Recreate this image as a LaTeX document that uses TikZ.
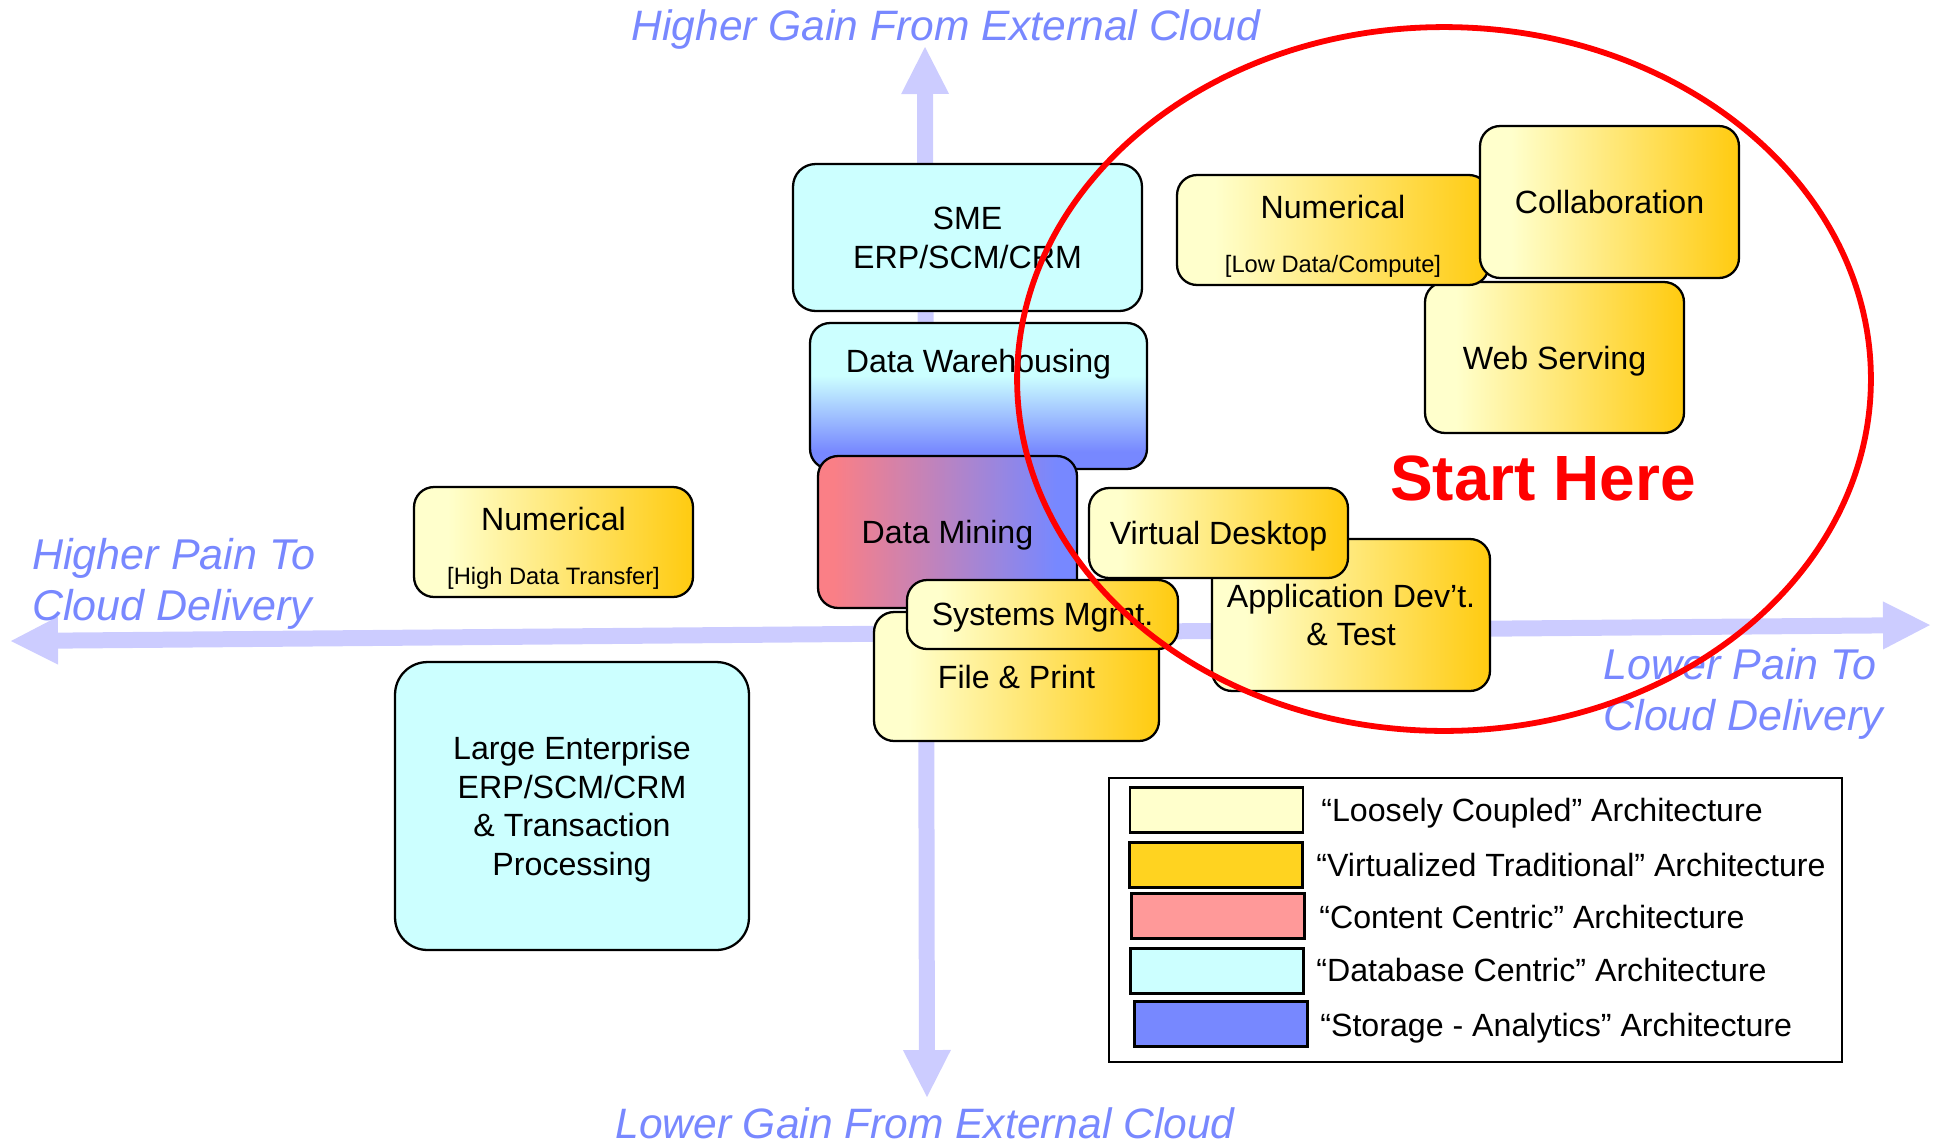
\documentclass[tikz,border=0pt]{standalone}
\usepackage{fontspec}
\setmainfont{Liberation Sans}
\usepackage{xcolor}
\usepackage{tikz}
\usetikzlibrary{arrows.meta}
\definecolor{loosecream}{HTML}{FFFFCC}
\definecolor{virtgold}{HTML}{FFD320}
\definecolor{shadegold}{HTML}{FFCC14}
\definecolor{contentpink}{HTML}{FF9999}
\definecolor{miningpink}{HTML}{FA7F86}
\definecolor{dbcyan}{HTML}{CCFFFF}
\definecolor{storageblue}{HTML}{7788FF}
\definecolor{axislilac}{HTML}{CCCCFF}
\definecolor{axistext}{HTML}{7888FF}
\definecolor{startred}{HTML}{FF0000}
\pgfdeclarehorizontalshading{vtshade}{100bp}{color(0bp)=(loosecream); color(31bp)=(loosecream); color(74bp)=(shadegold); color(100bp)=(shadegold)}
\pgfdeclarehorizontalshading{miningshade}{100bp}{color(0bp)=(miningpink); color(28bp)=(miningpink); color(71bp)=(storageblue); color(100bp)=(storageblue)}
\pgfdeclareverticalshading{warehouseshade}{100bp}{color(0bp)=(storageblue); color(31bp)=(storageblue); color(57bp)=(dbcyan); color(100bp)=(dbcyan)}
\newcommand{\bracketfont}{\fontsize{13.5}{16}\selectfont}
\tikzset{
  arch/.style={rectangle,rounded corners=0.4cm,draw=black,line width=1.3pt,align=center,inner sep=0pt,text depth=-1.5pt,font=\fontsize{18.3}{22}\selectfont},
  dbbox/.style={arch,fill=dbcyan},
  vtbox/.style={arch,shade,shading=vtshade},
  axisarrow/.style={draw=axislilac,line width=0.32cm,{Triangle[length=0.94cm,width=0.96cm,line width=0pt]}-{Triangle[length=0.94cm,width=0.96cm,line width=0pt]}},
  axislabel/.style={text=axistext,inner sep=0pt,font=\fontsize{24.5}{29}\selectfont\itshape},
  legendframe/.style={rectangle,draw=black,line width=1.2pt,fill=white,inner sep=0pt},
  swatch/.style={rectangle,draw=black,line width=1.6pt,minimum width=3.46cm,minimum height=0.9cm,inner sep=0pt},
  legendtext/.style={anchor=base west,inner sep=0pt,font=\fontsize{18.3}{22}\selectfont},
  redring/.style={draw=startred,line width=3.3pt}
}
\begin{document}
\begin{tikzpicture}[x=0.02cm,y=-0.02cm]
\useasboundingbox (0,0) rectangle (1934,1144);
\coordinate (gaintop) at (925,47);
\coordinate (gainbot) at (927,1097);
\coordinate (painleft) at (11,641);
\coordinate (painright) at (1930,625);
\draw[axisarrow] (gainbot) -- (gaintop);
\draw[axisarrow] (painleft) -- (painright);
\node[dbbox,rounded corners=0.45cm,minimum width=6.98cm,minimum height=2.94cm] (sme) at (967.5,237.5) {SME\\ERP/SCM/CRM};
\node[arch,shade,shading=warehouseshade,minimum width=6.74cm,minimum height=2.92cm,text depth=1.4cm] (dwh) at (978.5,396) {Data Warehousing};
\node[arch,shade,shading=miningshade,minimum width=5.18cm,minimum height=3.04cm] (dmin) at (947.5,532) {Data Mining};
\node[vtbox,minimum width=5.7cm,minimum height=2.58cm] (fprint) at (1016.5,676.5) {File \& Print};
\node[vtbox,minimum width=5.42cm,minimum height=1.38cm] (sysm) at (1042.5,614.5) {Systems Mgmt.};
\node[vtbox,minimum width=5.56cm,minimum height=3.04cm] (appdev) at (1351,615) {Application Dev’t.\\\& Test};
\node[vtbox,minimum width=5.18cm,minimum height=1.8cm] (vdesk) at (1218.5,533) {Virtual Desktop};
\node[vtbox,minimum width=5.58cm,minimum height=2.2cm,text depth=-3.5pt] (numhi) at (553.5,542) {\rule{0pt}{17.5pt}Numerical\\[9pt]{\bracketfont [High Data Transfer]}};
\node[dbbox,rounded corners=0.65cm,minimum width=7.08cm,minimum height=5.76cm] (lent) at (572,806) {Large Enterprise\\ERP/SCM/CRM\\\& Transaction\\Processing};
\node[vtbox,minimum width=5.18cm,minimum height=3.02cm] (websrv) at (1554.5,357.5) {Web Serving};
\node[vtbox,minimum width=6.24cm,minimum height=2.2cm,text depth=-3.5pt] (numlo) at (1333,230) {\rule{0pt}{17.5pt}Numerical\\[9pt]{\bracketfont [Low Data/Compute]}};
\node[vtbox,minimum width=5.18cm,minimum height=3.04cm] (collab) at (1609.5,202) {Collaboration};
\node[legendframe,minimum width=14.66cm,minimum height=5.68cm] (legend) at (1475.5,920) {};
\node[swatch,fill=loosecream] (swloose) at (1216.5,810) {};
\node[swatch,fill=virtgold] (swvirt) at (1216,865) {};
\node[swatch,fill=contentpink] (swcontent) at (1218,916) {};
\node[swatch,fill=dbcyan] (swdb) at (1217,971) {};
\node[swatch,fill=storageblue] (swstor) at (1221,1024) {};
\node[legendtext] (lgloose) at (1321,821.5) {“Loosely Coupled” Architecture};
\node[legendtext] (lgvirt) at (1316,876.5) {“Virtualized Traditional” Architecture};
\node[legendtext] (lgcontent) at (1319,928) {“Content Centric” Architecture};
\node[legendtext] (lgdb) at (1316,981.5) {“Database Centric” Architecture};
\node[legendtext] (lgstor) at (1320,1036.5) {“Storage - Analytics” Architecture};
\node[axislabel,font=\fontsize{24.2}{29}\selectfont\itshape] (gainhi) at (946,29) {Higher Gain From External Cloud};
\node[axislabel,font=\fontsize{24.2}{29}\selectfont\itshape] (gainlo) at (925,1123) {Lower Gain From External Cloud};
\node[axislabel,anchor=west,align=left] (painhi) at (32,584) {Higher Pain To\\Cloud Delivery};
\node[axislabel,anchor=west,align=left] (painlo) at (1603,694) {Lower Pain To\\Cloud Delivery};
\draw[redring] (1444,379) ellipse [x radius=8.54cm,y radius=7.04cm];
\node[text=startred,inner sep=0pt,font=\fontsize{36.4}{44}\selectfont\bfseries] (start) at (1543,478) {Start Here};
\end{tikzpicture}
\end{document}
